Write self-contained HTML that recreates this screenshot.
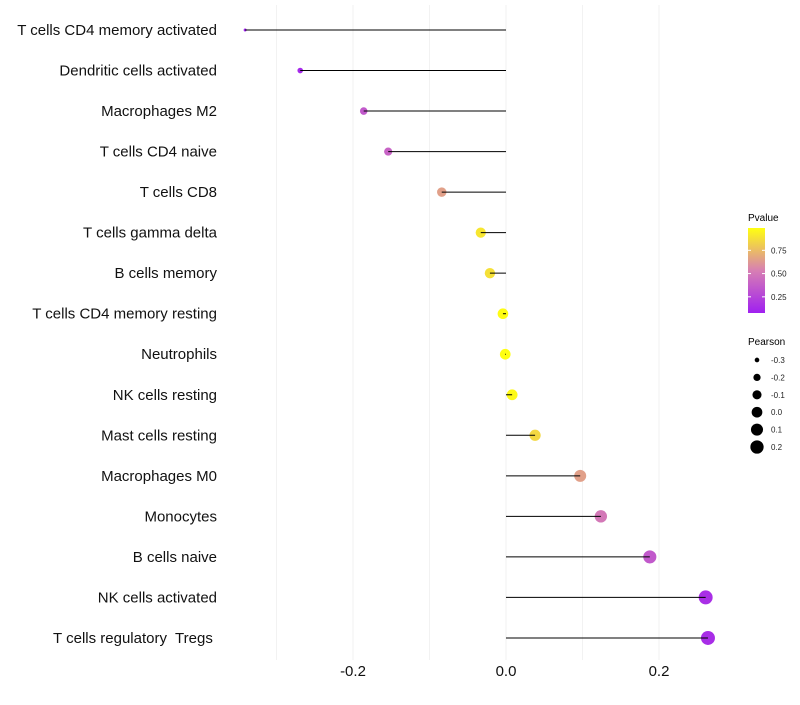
<!DOCTYPE html>
<html><head><meta charset="utf-8"><style>
body{margin:0;background:#fff;}
svg{font-family:"Liberation Sans",sans-serif;}
text{white-space:pre;}
</style></head><body>
<svg id="chart" width="800" height="700">
<defs><linearGradient id="pg" x1="0" y1="1" x2="0" y2="0">
<stop offset="0" stop-color="#a020f0"/><stop offset="0.5" stop-color="#d77fb3"/><stop offset="1" stop-color="#ffff10"/>
</linearGradient></defs>
<g id="grid"></g><g id="marks"></g><g id="ylabels"></g><g id="xlabels"></g>
<g>
<text x="748" y="221" font-size="10">Pvalue</text>
<rect x="748" y="228" width="17" height="85" fill="url(#pg)"/>
<g id="cbticks"></g>
</g>
<g id="sizeleg">
<text x="748" y="345" font-size="10">Pearson</text>
</g>
</svg>
<script>
const categories=["T cells CD4 memory activated","Dendritic cells activated","Macrophages M2","T cells CD4 naive","T cells CD8","T cells gamma delta","B cells memory","T cells CD4 memory resting","Neutrophils","NK cells resting","Mast cells resting","Macrophages M0","Monocytes","B cells naive","NK cells activated","T cells regulatory  Tregs "];
const pearson=[-0.341,-0.269,-0.186,-0.154,-0.084,-0.033,-0.021,-0.004,-0.001,0.008,0.038,0.097,0.124,0.188,0.261,0.264];
const pvalue=[0.08,0.12,0.35,0.40,0.65,0.90,0.88,0.98,0.99,0.97,0.85,0.65,0.50,0.35,0.15,0.14];
const xTicks=[-0.2,0.0,0.2];
const xTickLabels=["-0.2","0.0","0.2"];
const cbTicks=[0.25,0.5,0.75];
const cbTickLabels=["0.25","0.50","0.75"];
const sizeLegend=[-0.3,-0.2,-0.1,0.0,0.1,0.2];
const sizeLegendLabels=["-0.3","-0.2","-0.1","0.0","0.1","0.2"];
const NS="http://www.w3.org/2000/svg";
const x=v=>506+v*765;
const y=i=>30+i*40.53;
const pmin=0.076,pmax=0.99;
const cy=p=>313-(p-pmin)/(pmax-pmin)*85;
function lerp(a,b,t){return a.map((v,k)=>Math.round(v+(b[k]-v)*t));}
function color(p){const t=Math.max(0,Math.min(1,(p-pmin)/(pmax-pmin)));
const s=[[160,32,240],[215,127,179],[255,255,16]];
const c=t<0.5?lerp(s[0],s[1],t*2):lerp(s[1],s[2],(t-0.5)*2);return `rgb(${c})`;}
const smin=-0.341,smax=0.264;
const r=v=>Math.sqrt(2.2+(v-smin)/(smax-smin)*(49-2.2));
function mk(t,a,p){const e=document.createElementNS(NS,t);for(const k in a)e.setAttribute(k,a[k]);p.appendChild(e);return e;}
const grid=document.getElementById('grid'),marks=document.getElementById('marks');
[-0.3,-0.2,-0.1,0,0.1,0.2].forEach(v=>{const l=mk('line',{x1:x(v),x2:x(v),y1:5,y2:660,stroke:'#f2f2f2','stroke-width':1},grid);

});
categories.forEach((c,i)=>{
const cc=mk('circle',{cx:x(pearson[i]),cy:y(i),r:r(pearson[i]),fill:color(pvalue[i])},marks);


const l=mk('line',{x1:x(0),x2:x(pearson[i]),y1:y(i),y2:y(i),stroke:'#000','stroke-width':1},marks);


const t=mk('text',{x:217,y:y(i)+5,'text-anchor':'end','font-size':15,fill:'#111'},document.getElementById('ylabels'));
t.textContent=c;

});
xTicks.forEach((v,i)=>{const t=mk('text',{x:x(v),y:676,'text-anchor':'middle','font-size':15,fill:'#111'},document.getElementById('xlabels'));
t.textContent=xTickLabels[i];

});
const cb=document.getElementById('cbticks');
cbTicks.forEach((v,i)=>{mk('line',{x1:748,x2:751,y1:cy(v),y2:cy(v),stroke:'#fff'},cb);mk('line',{x1:762,x2:765,y1:cy(v),y2:cy(v),stroke:'#fff'},cb);
const t=mk('text',{x:771,y:cy(v)+3,'font-size':8,fill:'#222'},cb);t.textContent=cbTickLabels[i];

});
const sl=document.getElementById('sizeleg');
sizeLegend.forEach((v,i)=>{const yy=360+i*17.4;
const c=mk('circle',{cx:757,cy:yy,r:r(v),fill:'#000'},sl);


const t=mk('text',{x:771,y:yy+3,'font-size':8,fill:'#222'},sl);t.textContent=sizeLegendLabels[i];

});
</script>
</body></html>
